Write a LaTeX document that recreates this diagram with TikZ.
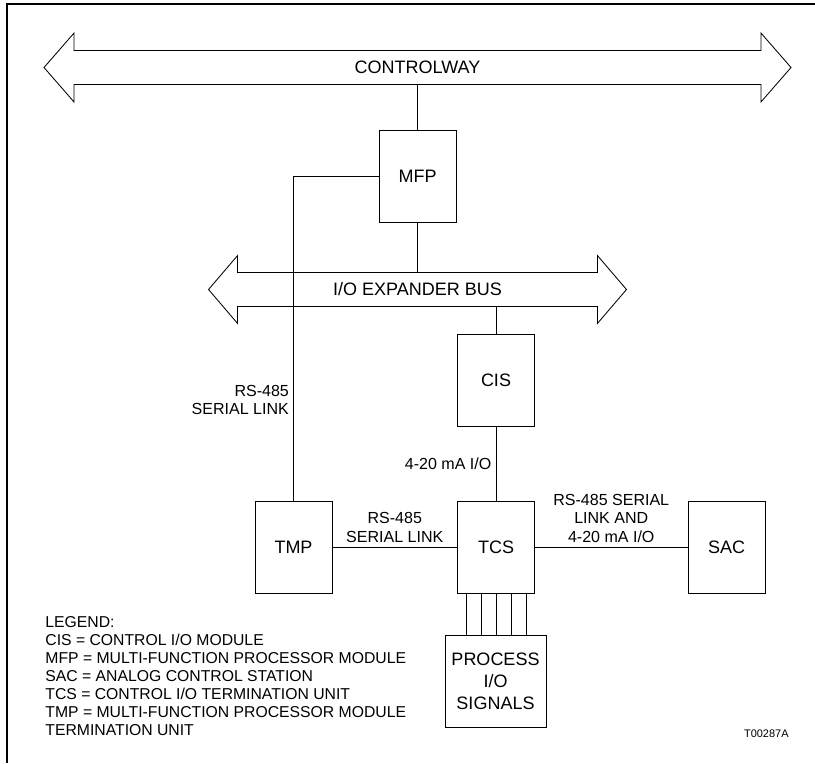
\documentclass[tikz,border=0pt]{standalone}
\usepackage{fontspec}
\setmainfont{Liberation Sans}
\usetikzlibrary{calc,positioning}
\def\busarrow(#1)(#2:#3){\draw (#1.north west) -- (#1.north east) -- ++(0,-#2) -- ($(#1.east)+(#3,0)$) -- ($(#1.south east)+(0,#2)$) -- (#1.south east) -- (#1.south west) -- ++(0,#2) -- ($(#1.west)+(-#3,0)$) -- ($(#1.north west)+(0,-#2)$) -- cycle;}

\begin{document}
\begin{tikzpicture}[x=0.025cm, y=-0.025cm, line width=0.6pt,
		unit/.style={draw, line width=0.65pt, minimum width=1.925cm, minimum height=2.3cm, inner sep=0pt, font=\fontsize{12.8}{15}\selectfont},
		bus/.style={minimum height=0.825cm, inner sep=0pt, font=\fontsize{12.8}{15}\selectfont},
		lbl/.style={font=\fontsize{11.4}{13}\selectfont, align=center, inner sep=3pt}]
		%%%%% START %%%%%
		
		\useasboundingbox (0, 0) rectangle (815, 763);
		\draw[line width=1.3pt] (7, 763) -- (7, 4) -- (815, 4);
		
		\node[bus, minimum width=17.15cm] (cw) at (417.5, 67.5) {CONTROLWAY};
		\busarrow(cw)(17.5:30)
		
		\node[unit] (mfp) at (417.5, 176) {MFP};
		
		\node[bus, minimum width=8.975cm] (io) at (417.5, 289.5) {I/O EXPANDER BUS};
		\busarrow(io)(17:29)
		
		\node[unit] (cis) at (496, 380.5) {CIS};
		\node[unit] (tmp) at (293.5, 547) {TMP};
		\node[unit] (tcs) at (496, 547) {TCS};
		\node[unit] (sac) at (726.5, 547) {SAC};
		\node[unit, minimum width=2.525cm, align=center, font=\fontsize{12.8}{15.6}\selectfont] (pio) at (495.5, 681) {PROCESS\\I/O\\SIGNALS};
		
		\draw (cw.south) -- (mfp.north);
		\draw (mfp.south) -- (io.north);
		\draw (mfp.west) -| (tmp.north) node[lbl, left, pos=0.845, align=right] {RS-485\\SERIAL LINK};
		\draw (io.south -| cis.north) -- (cis.north);
		\draw (cis.south) -- (tcs.north) node[lbl, left, midway] {4-20 mA I/O};
		\draw (tmp.east) -- (tcs.west) node[lbl, above, midway] {RS-485\\SERIAL LINK};
		\draw (tcs.east) -- (sac.west) node[lbl, above, midway] {RS-485 SERIAL\\LINK AND\\4-20 mA I/O};
		
		\foreach \dx in {-30,-15,0,15,30}{
			\coordinate (w) at ($(tcs.south)+(\dx,0)$);
			\draw (w) -- (w |- pio.north);
		}
		
		\node[anchor=north west, align=left, inner sep=0pt, font=\fontsize{11.2}{12.8}\selectfont] (legend) at (45, 616.5) {LEGEND:\\CIS = CONTROL I/O MODULE\\MFP = MULTI-FUNCTION PROCESSOR MODULE\\SAC = ANALOG CONTROL STATION\\TCS = CONTROL I/O TERMINATION UNIT\\TMP = MULTI-FUNCTION PROCESSOR MODULE\\TERMINATION UNIT};
		
		\node[anchor=east, inner sep=0pt, font=\fontsize{7.8}{9}\selectfont] (fig) at (789, 734) {T00287A};
		
		%%%%% END %%%%%
	\end{tikzpicture}
\end{document}
